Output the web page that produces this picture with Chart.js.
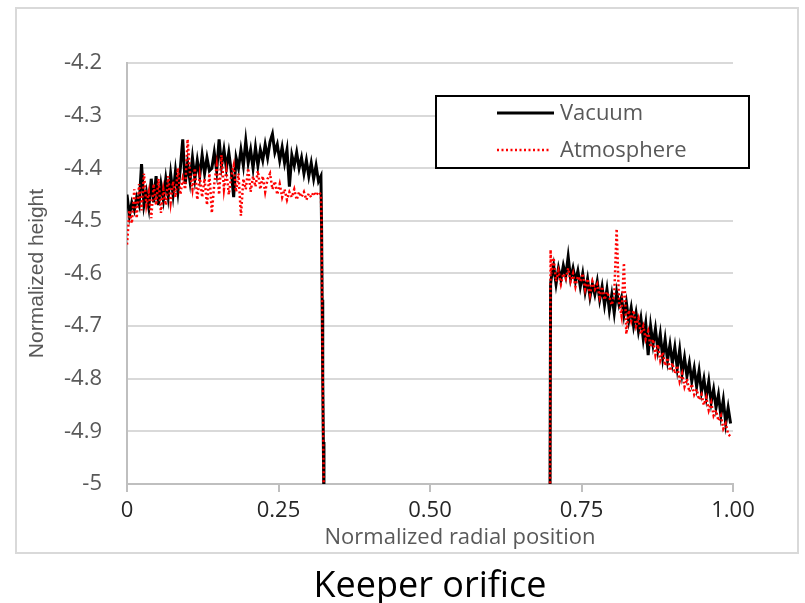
<!DOCTYPE html>
<html>
<head>
<meta charset="utf-8">
<script src="https://cdn.jsdelivr.net/npm/chart.js@4.4.1/dist/chart.umd.min.js"></script>
<style>
  html, body { margin: 0; padding: 0; background: #fff; }
  #wrap { width: 805px; height: 603px; }
</style>
</head>
<body>
<div id="wrap"><canvas id="profileChart" width="805" height="603"></canvas></div>
<script>
// normalized radial position of each sample (gap at 0.5 = no surface over the orifice)
var radialPos = [
  0.000, 0.004, 0.008, 0.012, 0.016, 0.020, 0.024, 0.028, 0.032, 0.036,
  0.040, 0.044, 0.048, 0.052, 0.056, 0.060, 0.064, 0.068, 0.072, 0.076,
  0.080, 0.084, 0.088, 0.092, 0.096, 0.100, 0.104, 0.108, 0.112, 0.116,
  0.120, 0.124, 0.128, 0.132, 0.136, 0.140, 0.144, 0.148, 0.152, 0.156,
  0.160, 0.164, 0.168, 0.172, 0.176, 0.180, 0.184, 0.188, 0.192, 0.196,
  0.200, 0.204, 0.208, 0.212, 0.216, 0.220, 0.224, 0.228, 0.232, 0.236,
  0.240, 0.244, 0.248, 0.252, 0.256, 0.260, 0.264, 0.268, 0.272, 0.276,
  0.280, 0.284, 0.288, 0.292, 0.296, 0.300, 0.304, 0.308, 0.312, 0.316,
  0.320,
  0.321, 0.322, 0.323, 0.324, 0.325,
  0.500,
  0.698, 0.699,
  0.700, 0.704, 0.708, 0.712, 0.716, 0.720, 0.724, 0.728, 0.732, 0.736,
  0.740, 0.744, 0.748, 0.752, 0.756, 0.760, 0.764, 0.768, 0.772, 0.776,
  0.780, 0.784, 0.788, 0.792, 0.796, 0.800, 0.804, 0.808, 0.812, 0.816,
  0.820, 0.824, 0.828, 0.832, 0.836, 0.840, 0.844, 0.848, 0.852, 0.856,
  0.860, 0.864, 0.868, 0.872, 0.876, 0.880, 0.884, 0.888, 0.892, 0.896,
  0.900, 0.904, 0.908, 0.912, 0.916, 0.920, 0.924, 0.928, 0.932, 0.936,
  0.940, 0.944, 0.948, 0.952, 0.956, 0.960, 0.964, 0.968, 0.972, 0.976,
  0.980, 0.984, 0.988, 0.992, 0.996
];

var vacuumHeight = [
  -4.450, -4.490, -4.465, -4.480, -4.455, -4.470, -4.392, -4.470, -4.445, -4.475,
  -4.420, -4.465, -4.415, -4.470, -4.430, -4.460, -4.420, -4.455, -4.410, -4.450,
  -4.405, -4.445, -4.400, -4.345, -4.430, -4.390, -4.425, -4.380, -4.420, -4.385,
  -4.415, -4.375, -4.410, -4.380, -4.405, -4.400, -4.370, -4.405, -4.345, -4.395,
  -4.365, -4.400, -4.370, -4.405, -4.455, -4.380, -4.400, -4.365, -4.395, -4.348,
  -4.390, -4.365, -4.400, -4.360, -4.395, -4.365, -4.385, -4.355, -4.380, -4.350,
  -4.335, -4.370, -4.355, -4.385, -4.360, -4.390, -4.365, -4.435, -4.375, -4.395,
  -4.370, -4.400, -4.380, -4.410, -4.385, -4.415, -4.390, -4.420, -4.395, -4.425,
  -4.415,
  -4.50, -4.65, -4.80, -4.92, -5.05,
  null,
  -5.05, -4.62,
  -4.610, -4.585, -4.620, -4.590, -4.612, -4.585, -4.605, -4.568, -4.610, -4.590,
  -4.615, -4.595, -4.625, -4.600, -4.635, -4.610, -4.645, -4.620, -4.640, -4.615,
  -4.650, -4.625, -4.660, -4.630, -4.670, -4.640, -4.675, -4.635, -4.660, -4.645,
  -4.680, -4.655, -4.690, -4.665, -4.700, -4.675, -4.710, -4.685, -4.725, -4.695,
  -4.755, -4.700, -4.735, -4.705, -4.745, -4.715, -4.760, -4.725, -4.765, -4.735,
  -4.770, -4.740, -4.780, -4.745, -4.790, -4.760, -4.795, -4.770, -4.805, -4.780,
  -4.815, -4.785, -4.825, -4.800, -4.835, -4.805, -4.845, -4.820, -4.855, -4.830,
  -4.870, -4.840, -4.885, -4.855, -4.885
];

var atmosphereHeight = [
  -4.545, -4.480, -4.505, -4.440, -4.495, -4.430, -4.480, -4.410, -4.470, -4.445,
  -4.495, -4.430, -4.470, -4.420, -4.485, -4.440, -4.470, -4.415, -4.465, -4.425,
  -4.455, -4.400, -4.450, -4.420, -4.440, -4.345, -4.410, -4.440, -4.400, -4.460,
  -4.415, -4.455, -4.420, -4.470, -4.410, -4.485, -4.430, -4.395, -4.450, -4.375,
  -4.440, -4.405, -4.450, -4.415, -4.395, -4.445, -4.410, -4.490, -4.420, -4.440,
  -4.400, -4.445, -4.415, -4.435, -4.405, -4.440, -4.415, -4.445, -4.420, -4.410,
  -4.440, -4.425, -4.450, -4.430, -4.455, -4.440, -4.460, -4.445, -4.455, -4.440,
  -4.460, -4.445, -4.455, -4.445, -4.460, -4.448, -4.455, -4.445, -4.452, -4.445,
  -4.450,
  -4.50, -4.66, -4.80, -4.93, -5.05,
  null,
  -5.05, -4.555,
  -4.600, -4.570, -4.615, -4.595, -4.620, -4.600, -4.610, -4.590, -4.615, -4.600,
  -4.625, -4.605, -4.615, -4.600, -4.630, -4.610, -4.640, -4.615, -4.630, -4.620,
  -4.645, -4.625, -4.650, -4.635, -4.645, -4.660, -4.640, -4.515, -4.655, -4.680,
  -4.580, -4.715, -4.670, -4.690, -4.670, -4.700, -4.685, -4.715, -4.700, -4.725,
  -4.710, -4.740, -4.725, -4.755, -4.735, -4.765, -4.750, -4.775, -4.760, -4.785,
  -4.770, -4.790, -4.775, -4.805, -4.790, -4.815, -4.800, -4.825, -4.810, -4.830,
  -4.820, -4.840, -4.830, -4.850, -4.835, -4.860, -4.845, -4.870, -4.860, -4.880,
  -4.870, -4.895, -4.885, -4.905, -4.910
];

var seriesNames = ['Vacuum', 'Atmosphere'];
var xTickLabels = ['0', '0.25', '0.50', '0.75', '1.00'];
var xTitle = 'Normalized radial position';
var yTitle = 'Normalized height';
var caption = 'Keeper orifice';

function points(values) {
  return radialPos.map(function(x, i) {
    return {x: x, y: values[i]};
  });
}

var textFont = '"Open Sans", "Liberation Sans", sans-serif';

var framePlugin = {
  id: 'frame',
  beforeDraw: function(chart) {
    var ctx = chart.ctx;
    ctx.save();
    ctx.fillStyle = '#ffffff';
    ctx.fillRect(0, 0, chart.width, chart.height);
    ctx.strokeStyle = '#d9d9d9';
    ctx.lineWidth = 2;
    ctx.strokeRect(16, 8, 782, 545);
    ctx.restore();
  },
  afterDraw: function(chart) {
    var ctx = chart.ctx;
    var area = chart.chartArea;
    var sets = chart.data.datasets;
    ctx.save();

    // x axis title (sits a little right of the plot centre)
    ctx.fillStyle = '#595959';
    ctx.font = '22px ' + textFont;
    ctx.textAlign = 'center';
    ctx.textBaseline = 'alphabetic';
    ctx.fillText(xTitle, (area.left + area.right) / 2 + 30, 544);

    // legend box
    var bx = 436, by = 96, bw = 313, bh = 72;
    ctx.fillStyle = '#ffffff';
    ctx.fillRect(bx, by, bw, bh);
    ctx.strokeStyle = '#000000';
    ctx.lineWidth = 2;
    ctx.strokeRect(bx, by, bw, bh);

    var rows = [113, 150];
    sets.forEach(function(ds, i) {
      ctx.beginPath();
      ctx.strokeStyle = ds.borderColor;
      ctx.lineWidth = ds.borderWidth;
      ctx.setLineDash(ds.borderDash || []);
      ctx.moveTo(497, rows[i]);
      ctx.lineTo(i === 0 ? 554 : 551, rows[i]);
      ctx.stroke();
      ctx.setLineDash([]);
      ctx.fillStyle = '#595959';
      ctx.font = '22px ' + textFont;
      ctx.textAlign = 'left';
      ctx.textBaseline = 'middle';
      ctx.fillText(ds.label, 560, rows[i] + 1);
    });

    // caption under the frame
    ctx.fillStyle = '#000000';
    ctx.font = '36px ' + textFont;
    ctx.textAlign = 'center';
    ctx.textBaseline = 'alphabetic';
    ctx.fillText(caption, (area.left + area.right) / 2, 597);
    ctx.restore();
  }
};

var ctx_profile = document.getElementById('profileChart');

var profileChart = new Chart(ctx_profile, {
  type: 'scatter',
  data: {
    datasets: [
      {
        label: seriesNames[0],
        data: points(vacuumHeight),
        showLine: true,
        borderColor: '#000000',
        borderWidth: 3,
        pointRadius: 0,
        spanGaps: false,
        order: 2
      },
      {
        label: seriesNames[1],
        data: points(atmosphereHeight),
        showLine: true,
        borderColor: '#ff0000',
        borderWidth: 2.5,
        borderDash: [2, 2.5],
        pointRadius: 0,
        spanGaps: false,
        order: 1
      }
    ]
  },
  options: {
    responsive: false,
    animation: false,
    layout: {
      padding: {left: 0, right: 72, top: 63, bottom: 0}
    },
    plugins: {
      legend: {display: false},
      tooltip: {enabled: false}
    },
    scales: {
      x: {
        type: 'linear',
        min: 0,
        max: 1,
        afterFit: function(scale) { scale.height = 603 - 484; },
        afterBuildTicks: function(scale) {
          scale.ticks = xTickLabels.map(function(t, i) { return {value: i * 0.25}; });
        },
        ticks: {
          color: '#262626',
          font: {family: textFont, size: 22},
          padding: 6,
          maxRotation: 0,
          autoSkip: false,
          callback: function(v, i) { return xTickLabels[i]; }
        },
        grid: {
          drawOnChartArea: false,
          drawTicks: true,
          tickLength: 8,
          color: '#bfbfbf',
          lineWidth: 2
        },
        border: {color: '#bfbfbf', width: 2}
      },
      y: {
        min: -5,
        max: -4.2,
        afterFit: function(scale) { scale.width = 127; },
        ticks: {
          stepSize: 0.1,
          color: '#595959',
          font: {family: textFont, size: 22},
          padding: 25,
          callback: function(v) { return String(Number(v.toFixed(1))); }
        },
        grid: {
          drawTicks: false,
          color: '#d9d9d9',
          lineWidth: 2
        },
        border: {color: '#bfbfbf', width: 2},
        title: {
          display: true,
          text: yTitle,
          color: '#595959',
          font: {family: '"Liberation Sans", Arial, sans-serif', size: 21},
          padding: {top: 25, bottom: 0}
        }
      }
    }
  },
  plugins: [framePlugin]
});
</script>
</body>
</html>
